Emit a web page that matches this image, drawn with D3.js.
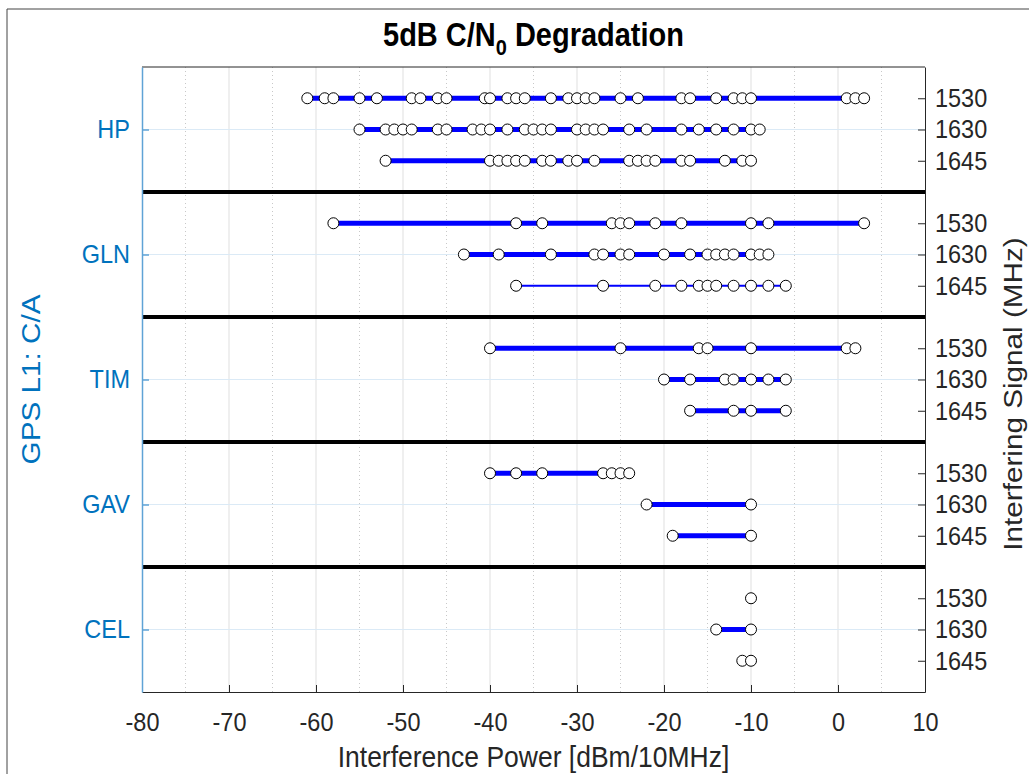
<!DOCTYPE html>
<html>
<head>
<meta charset="utf-8">
<script src="https://cdn.jsdelivr.net/npm/d3@7"></script>
<style>
  body { margin: 0; background: #fff; }
  svg { display: block; font-family: "Liberation Sans", Arial, sans-serif; }
</style>
</head>
<body>
<svg id="chart" width="1029" height="774"></svg>
<script>
// receivers (left axis) and interfering signals (right axis)
var receivers = ["HP", "GLN", "TIM", "GAV", "CEL"];
var freqs = ["1530", "1630", "1645"];
var xTicks = [-80, -70, -60, -50, -40, -30, -20, -10, 0, 10];

// interference power [dBm/10MHz] at each measured point
var hp1530 = [-61, -59, -58, -55, -53, -49, -48, -46, -45, -40.6, -40, -38, -37, -36, -33, -31, -30, -29, -28, -25, -23, -18, -17, -14, -12, -11, -10, 1, 2, 3];
var hp1630 = [-55, -52, -51, -50, -49, -46, -45, -42, -41, -40, -38, -36, -35, -34, -33, -30, -29, -28, -27, -24, -22, -18, -16, -14, -12, -10, -9];
var hp1645 = [-52, -40, -39, -38, -37, -36, -34, -33, -31, -30, -28, -24, -23, -22, -21, -18, -17, -13, -11, -10];
var gln1530 = [-58, -37, -34, -26, -25, -24, -21, -18, -10, -8, 3];
var gln1630 = [-43, -39, -33, -28, -27, -25, -24, -20, -17, -15, -14, -13, -12, -10, -9, -8];
var gln1645 = [-37, -27, -21, -18, -16, -15, -14, -12, -10, -8, -6];
var tim1530 = [-40, -25, -16, -15, -10, 1, 2];
var tim1630 = [-20, -17, -13, -12, -10, -8, -6];
var tim1645 = [-17, -12, -10, -6];
var gav1530 = [-40, -37, -34, -27, -26, -25, -24];
var gav1630 = [-22, -10];
var gav1645 = [-19, -10];
var cel1530 = [-10];
var cel1630 = [-14, -10];
var cel1645 = [-11, -10];

var series = [
  [hp1530, hp1630, hp1645],
  [gln1530, gln1630, gln1645],
  [tim1530, tim1630, tim1645],
  [gav1530, gav1630, gav1645],
  [cel1530, cel1630, cel1645]
];

var colors = { line: "#0000ff", axisLeft: "#0072bd", text: "#262626" };
var thinRows = ["GLN 1645"];
var tickFont = 23.5, labelFont = 26.5, stretch = 1.12; // text in the original looks a bit tall

var svg = d3.select("#chart"),
    margin = {top: 67, right: 104, bottom: 82, left: 142},
    width = +svg.attr("width") - margin.left - margin.right,
    height = +svg.attr("height") - margin.top - margin.bottom;

var x = d3.scaleLinear().domain([-80, 10]).range([margin.left, margin.left + width]);
var y = d3.scaleLinear().domain([0, 20]).range([margin.top, margin.top + height]);

// row position: each receiver takes 4 slots (3 rows + separator)
function rowPos(g, f) { return g * 4 + f + 1; }

// scale text vertically about a given y
function tall(cy) {
  return "translate(0," + cy + ") scale(1," + stretch + ") translate(0," + (-cy) + ")";
}

// figure edge
svg.append("path").attr("d", "M7,774V9H1029").attr("fill", "none").attr("stroke", "#444").attr("stroke-width", 1);

// grid
var grid = svg.append("g");
grid.selectAll(".minor").data(d3.range(-75, 10, 10)).enter().append("line")
  .attr("x1", function(d){ return x(d); }).attr("x2", function(d){ return x(d); })
  .attr("y1", y(0)).attr("y2", y(20))
  .attr("stroke", "#c8c8c8").attr("stroke-width", 1).attr("stroke-dasharray", "1,3");
grid.selectAll(".major").data(xTicks.slice(1, -1)).enter().append("line")
  .attr("x1", function(d){ return x(d); }).attr("x2", function(d){ return x(d); })
  .attr("y1", y(0)).attr("y2", y(20))
  .attr("stroke", "#dfdfdf").attr("stroke-width", 1);
grid.selectAll(".hgrid").data(receivers).enter().append("line")
  .attr("x1", x(-80)).attr("x2", x(10))
  .attr("y1", function(d, i){ return y(i * 4 + 2); }).attr("y2", function(d, i){ return y(i * 4 + 2); })
  .attr("stroke", "#dbeaf6").attr("stroke-width", 1);

// lines and markers
var line = d3.line().x(function(d){ return x(d[0]); }).y(function(d){ return y(d[1]); });
var plot = svg.append("g");
series.forEach(function(group, g) {
  group.forEach(function(vals, f) {
    var p = rowPos(g, f);
    var pts = vals.map(function(v){ return [v, p]; });
    var thin = thinRows.indexOf(receivers[g] + " " + freqs[f]) >= 0;
    if (pts.length > 1) {
      plot.append("path").datum(pts)
        .attr("d", line).attr("fill", "none")
        .attr("stroke", colors.line).attr("stroke-width", thin ? 2 : 5);
    }
    plot.selectAll(null).data(pts).enter().append("circle")
      .attr("cx", function(d){ return x(d[0]); })
      .attr("cy", function(d){ return y(d[1]); })
      .attr("r", 5.5).attr("fill", "#fff").attr("stroke", "#000").attr("stroke-width", 1);
  });
});

// separators between receivers
svg.append("g").selectAll("line").data(d3.range(1, receivers.length)).enter().append("line")
  .attr("x1", x(-80)).attr("x2", x(10))
  .attr("y1", function(d){ return y(d * 4); }).attr("y2", function(d){ return y(d * 4); })
  .attr("stroke", "#000").attr("stroke-width", 4);

// top border
svg.append("line").attr("x1", x(-80)).attr("x2", x(10)).attr("y1", y(0)).attr("y2", y(0))
  .attr("stroke", "#262626").attr("stroke-width", 1);

// axes
var xAxis = d3.axisBottom(x).tickValues(xTicks).tickFormat(function(d){ return String(d); })
  .tickSizeInner(-7).tickSizeOuter(0).tickPadding(21);
var gx = svg.append("g").attr("transform", "translate(0," + y(20) + ")").call(xAxis);
gx.selectAll("text").attr("font-size", tickFont).attr("fill", colors.text)
  .attr("font-family", "Liberation Sans, Arial, sans-serif").attr("transform", tall(29));
gx.selectAll("line, path").attr("stroke", colors.text);

var rightVals = [], rightLabels = {};
receivers.forEach(function(r, g){ freqs.forEach(function(fr, f){ rightVals.push(rowPos(g, f)); rightLabels[rowPos(g, f)] = fr; }); });
var yRight = d3.axisRight(y).tickValues(rightVals).tickFormat(function(d){ return rightLabels[d]; })
  .tickSizeInner(-7).tickSizeOuter(0).tickPadding(10);
var gr = svg.append("g").attr("transform", "translate(" + x(10) + ",0)").call(yRight);
gr.selectAll("text").attr("font-size", tickFont).attr("fill", colors.text)
  .attr("font-family", "Liberation Sans, Arial, sans-serif").attr("transform", tall(0));
gr.selectAll("line, path").attr("stroke", colors.text);

var yLeft = d3.axisLeft(y).tickValues(receivers.map(function(r, g){ return g * 4 + 2; }))
  .tickFormat(function(d){ return receivers[(d - 2) / 4]; })
  .tickSizeInner(-7).tickSizeOuter(0).tickPadding(12);
var gl = svg.append("g").attr("transform", "translate(" + x(-80) + ",0)").call(yLeft);
gl.selectAll("text").attr("font-size", tickFont).attr("fill", colors.axisLeft)
  .attr("font-family", "Liberation Sans, Arial, sans-serif").attr("transform", tall(0));
gl.selectAll("line, path").attr("stroke", "#5fa3d6").attr("stroke-width", 1.5);

// labels
var title = svg.append("text").attr("x", x(-35)).attr("y", 45).attr("transform", tall(35))
  .attr("text-anchor", "middle").attr("font-size", 29).attr("font-weight", "bold").attr("fill", "#000");
title.append("tspan").text("5dB C/N");
title.append("tspan").attr("font-size", 20).attr("dy", 8).text("0");
title.append("tspan").attr("dy", -8).text(" Degradation");

svg.append("text").attr("x", x(-35)).attr("y", 766).attr("transform", tall(757))
  .attr("text-anchor", "middle").attr("font-size", labelFont).attr("fill", colors.text)
  .text("Interference Power [dBm/10MHz]");

svg.append("text").attr("transform", "translate(40," + y(10) + ") rotate(-90) scale(" + stretch + ",1)")
  .attr("text-anchor", "middle").attr("font-size", labelFont).attr("fill", colors.axisLeft)
  .text("GPS L1: C/A");

svg.append("text").attr("transform", "translate(1022,394) rotate(-90) scale(" + stretch + ",1)")
  .attr("text-anchor", "middle").attr("font-size", labelFont).attr("fill", colors.text)
  .text("Interfering Signal (MHz)");
</script>
</body>
</html>
